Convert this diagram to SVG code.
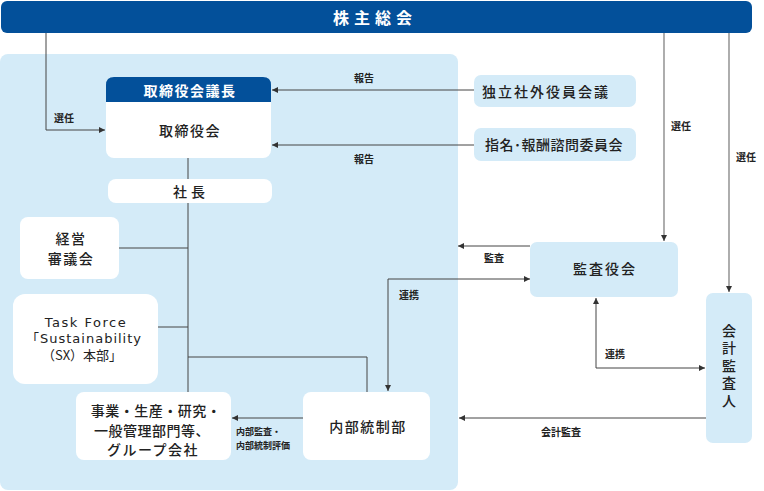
<svg xmlns="http://www.w3.org/2000/svg" width="764" height="491" viewBox="0 0 764 491">
<defs>
<marker id="ah" viewBox="0 0 10 10" refX="10" refY="5" markerWidth="6" markerHeight="6" orient="auto-start-reverse" markerUnits="userSpaceOnUse">
<path d="M0,0 L10,5 L0,10 z" fill="#333"/>
</marker>
<style>
text{font-family:"Noto Sans CJK JP","Noto Sans",sans-serif;fill:#222;text-anchor:middle;dominant-baseline:central}
.node{font-size:14px;font-weight:500;letter-spacing:1.5px}
.lbl{font-size:10px;font-weight:700}
.wh{fill:#fff}
.ln{stroke:#444;stroke-width:1;fill:none}
.lg{stroke:#777;stroke-width:1.2;fill:none}
.w{fill:#fff}
.lb{fill:#d4ebf8}
</style>
</defs>
<rect x="0" y="54" width="458" height="436" rx="8" fill="#d4ebf8"/>

<g id="connectors">
<polyline class="ln" points="46,33 46,130 105,130" marker-end="url(#ah)"/>
<text class="lbl" x="64" y="117">選任</text>
<line class="ln" x1="474" y1="90" x2="272" y2="90" marker-end="url(#ah)"/>
<text class="lbl" x="364" y="77">報告</text>
<line class="ln" x1="474" y1="145" x2="272" y2="145" marker-end="url(#ah)"/>
<text class="lbl" x="364" y="158">報告</text>
<line class="ln" x1="188" y1="158" x2="188" y2="179"/>
<line class="ln" x1="188" y1="203" x2="188" y2="392"/>
<line class="ln" x1="119" y1="248" x2="188" y2="248"/>
<line class="ln" x1="158" y1="327" x2="188" y2="327"/>
<polyline class="ln" points="188,357 367,357 367,392"/>
<polyline class="ln" points="530,279 388,279 388,391" marker-start="url(#ah)" marker-end="url(#ah)"/>
<text class="lbl" x="409" y="294">連携</text>
<line class="ln" x1="530" y1="246" x2="458" y2="246" marker-end="url(#ah)"/>
<text class="lbl" x="494" y="257">監査</text>
<line class="lg" x1="664" y1="33" x2="664" y2="241" marker-end="url(#ah)"/>
<text class="lbl" x="681" y="125">選任</text>
<line class="lg" x1="729" y1="33" x2="729" y2="292" marker-end="url(#ah)"/>
<text class="lbl" x="746" y="156">選任</text>
<polyline class="ln" points="596,298 596,368 705,368" marker-start="url(#ah)" marker-end="url(#ah)"/>
<text class="lbl" x="615" y="353">連携</text>
<line class="ln" x1="706" y1="418" x2="459" y2="418" marker-end="url(#ah)"/>
<text class="lbl" x="561" y="431">会計監査</text>
<line class="ln" x1="303" y1="418" x2="232" y2="418" marker-end="url(#ah)"/>
<text class="lbl" style="text-anchor:start;font-size:9px"><tspan x="236" y="431">内部監査・</tspan><tspan x="236" y="445">内部統制評価</tspan></text>
</g>

<g id="shareholders">
<rect x="1" y="1" width="751" height="32" rx="6" fill="#03509a"/>
<text class="wh" x="375" y="17" style="font-size:16px;font-weight:700;letter-spacing:5px">株主総会</text>
</g>

<g id="board">
<rect class="w" x="106" y="77" width="165" height="81" rx="8"/>
<path d="M106,102 L106,85 Q106,77 114,77 L263,77 Q271,77 271,85 L271,102 z" fill="#03509a"/>
<text class="wh node" x="190" y="90" style="font-weight:700">取締役会議長</text>
<text class="node" x="190" y="130">取締役会</text>
</g>

<g id="independent">
<rect class="lb" x="474" y="75" width="162" height="32" rx="7"/>
<text class="node" x="546" y="91" style="letter-spacing:2px">独立社外役員会議</text>
</g>

<g id="nomination">
<rect class="lb" x="474" y="128" width="162" height="33" rx="7"/>
<text class="node" x="554" y="144" style="letter-spacing:0.5px">指名･報酬諮問委員会</text>
</g>

<g id="president">
<rect class="w" x="108" y="179" width="164" height="24" rx="8"/>
<text class="node" x="191" y="191" style="letter-spacing:4px">社長</text>
</g>

<g id="management">
<rect class="w" x="20" y="217" width="99" height="62" rx="8"/>
<text class="node" x="71" y="238">経営</text>
<text class="node" x="71" y="258">審議会</text>
</g>

<g id="taskforce">
<rect class="w" x="13" y="294" width="145" height="90" rx="12"/>
<text x="86" y="322" style="font-size:13px;letter-spacing:1.5px;font-family:'DejaVu Sans','Noto Sans CJK JP',sans-serif">Task Force</text>
<text x="84" y="338" style="font-size:13px;letter-spacing:1px;font-family:'DejaVu Sans','Noto Sans CJK JP',sans-serif">「Sustainability</text>
<text x="82" y="354" style="font-size:13px;font-family:'Noto Sans CJK JP',sans-serif">（SX）本部」</text>
</g>

<g id="business">
<rect class="w" x="76" y="392" width="155" height="68" rx="8"/>
<text class="node" x="156" y="410" style="letter-spacing:0.5px">事業・生産・研究・</text>
<text class="node" x="152" y="430" style="letter-spacing:0.5px">一般管理部門等、</text>
<text class="node" x="153" y="449">グループ会社</text>
</g>

<g id="internal">
<rect class="w" x="303" y="392" width="127" height="68" rx="8"/>
<text class="node" x="368" y="426">内部統制部</text>
</g>

<g id="auditboard">
<rect class="lb" x="530" y="242" width="148" height="55" rx="7"/>
<text class="node" x="605" y="268" style="letter-spacing:2px">監査役会</text>
</g>

<g id="accountant">
<rect class="lb" x="706" y="293" width="46" height="150" rx="7"/>
<text class="node" x="729" y="367" style="writing-mode:vertical-rl;letter-spacing:3.5px">会計監査人</text>
</g>
</svg>
